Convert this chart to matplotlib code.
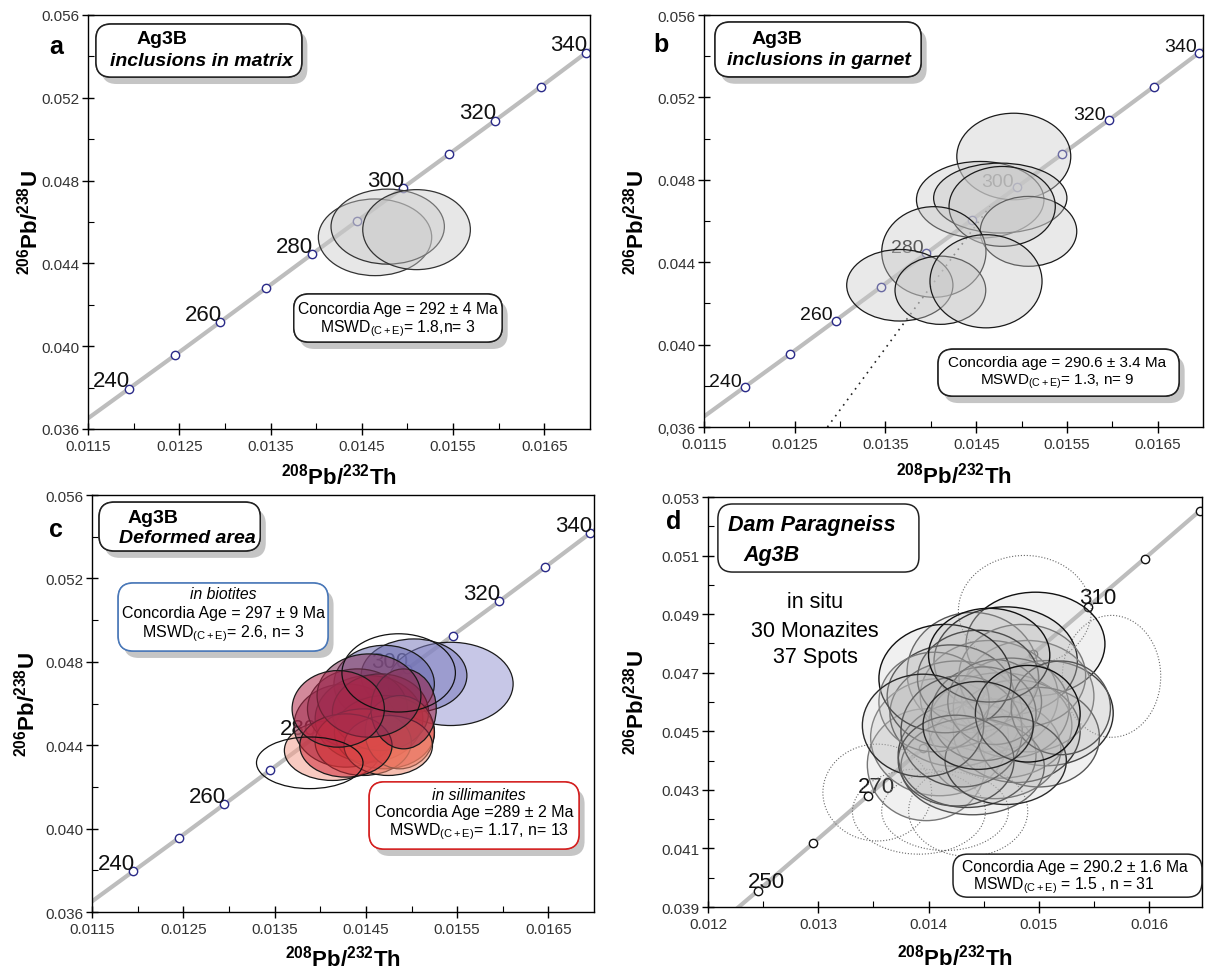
import matplotlib
matplotlib.use('Agg')
import matplotlib.pyplot as plt
from matplotlib.patches import Ellipse, FancyBboxPatch
from matplotlib import patheffects as pe
from matplotlib.colors import to_rgba

# ---------------- data ----------------
# concordia points (Ma) and their ratios
conc_age = [240, 250, 260, 270, 280, 290, 300, 310, 320, 330, 340]
conc_x = [0.01195, 0.01245, 0.01295, 0.01345, 0.01395, 0.01445, 0.01495, 0.01545, 0.01596, 0.01646, 0.01696]
conc_y = [0.03795, 0.03955, 0.04117, 0.04280, 0.04443, 0.04605, 0.04765, 0.04926, 0.05090, 0.05253, 0.05418]
# concordia curve (230 -> 350 Ma)
curve_x = [0.01144] + conc_x + [0.01747]
curve_y = [0.03632] + conc_y + [0.05580]

labels_abc = [240, 260, 280, 300, 320, 340]
labels_d = [250, 270, 310]

# a - inclusions in matrix
a_x = [0.014645, 0.014784, 0.015100]
a_y = [0.045259, 0.045775, 0.045630]
a_w = [0.001242, 0.001242, 0.001179]
a_h = [0.003704, 0.003623, 0.003865]

# b - inclusions in garnet
b_x = [0.014914, 0.014544, 0.014765, 0.015076, 0.014786, 0.014033, 0.013658, 0.014105, 0.014608]
b_y = [0.049134, 0.047034, 0.047115, 0.045499, 0.046711, 0.044498, 0.042882, 0.042640, 0.043076]
b_w = [0.001256, 0.001405, 0.001469, 0.001064, 0.001171, 0.001149, 0.001171, 0.001000, 0.001235]
b_h = [0.004200, 0.003716, 0.003393, 0.003393, 0.003877, 0.004400, 0.003473, 0.003312, 0.004523]
b_line_x = [0.01286, 0.01465]
b_line_y = [0.03600, 0.04671]

# c - deformed area, biotites (blue) and sillimanites (red)
bio_x = [0.015428, 0.015027, 0.014700]
bio_y = [0.046942, 0.047342, 0.046942]
bio_w = [0.001370, 0.001159, 0.001100]
bio_h = [0.003994, 0.003514, 0.003700]

sil_x = [0.014134, 0.014281, 0.014534, 0.014408, 0.014703, 0.014660, 0.014471,
         0.014871, 0.014745, 0.014281, 0.014913, 0.014534, 0.014197]
sil_y = [0.043748, 0.044946, 0.045265, 0.045744, 0.044626, 0.045585, 0.044147,
         0.044626, 0.043987, 0.043987, 0.045744, 0.046383, 0.045744]
sil_w = [0.001054, 0.001138, 0.001180, 0.001096, 0.001096, 0.001054, 0.001054,
         0.000759, 0.000969, 0.001011, 0.000716, 0.001138, 0.001011]
sil_h = [0.002875, 0.003994, 0.004153, 0.003834, 0.003514, 0.003674, 0.003195,
         0.003514, 0.002875, 0.003035, 0.003834, 0.003994, 0.003674]

c_open_x = [0.014859, 0.013885]
c_open_y = [0.047470, 0.043157]
c_open_w = [0.001243, 0.001167]
c_open_h = [0.003754, 0.002476]

# d - Dam paragneiss, in situ
d_x = [0.01497, 0.01440, 0.01507, 0.01398, 0.01470, 0.01455, 0.01425, 0.01410, 0.01480, 0.01460,
       0.01435, 0.01490, 0.01445, 0.01475, 0.01420, 0.01465, 0.01430, 0.01500, 0.01450, 0.01485,
       0.01415, 0.01440, 0.01470, 0.01405, 0.01455, 0.01520, 0.01395, 0.01460, 0.01490, 0.01425,
       0.01445]
d_y = [0.04798, 0.04701, 0.04562, 0.04386, 0.04740, 0.04620, 0.04560, 0.04480, 0.04500, 0.04440,
       0.04420, 0.04620, 0.04680, 0.04580, 0.04620, 0.04520, 0.04500, 0.04480, 0.04560, 0.04690,
       0.04680, 0.04380, 0.04400, 0.04600, 0.04760, 0.04580, 0.04520, 0.04600, 0.04560, 0.04400,
       0.04520]
d_w = [0.00126, 0.00119, 0.00121, 0.00107, 0.00130, 0.00125, 0.00120, 0.00125, 0.00115, 0.00120,
       0.00125, 0.00120, 0.00110, 0.00105, 0.00115, 0.00130, 0.00110, 0.00110, 0.00095, 0.00115,
       0.00120, 0.00130, 0.00110, 0.00100, 0.00110, 0.00090, 0.00110, 0.00085, 0.00095, 0.00105,
       0.00100]
d_h = [0.00354, 0.00410, 0.00359, 0.00382, 0.00370, 0.00380, 0.00360, 0.00400, 0.00350, 0.00340,
       0.00360, 0.00380, 0.00330, 0.00340, 0.00350, 0.00360, 0.00380, 0.00340, 0.00320, 0.00350,
       0.00370, 0.00330, 0.00300, 0.00340, 0.00320, 0.00320, 0.00350, 0.00290, 0.00330, 0.00310,
       0.00300]
d_dot_x = [0.014874, 0.015660, 0.013535, 0.013913, 0.014150, 0.014360]
d_dot_y = [0.049123, 0.046877, 0.042909, 0.042259, 0.042280, 0.042280]
d_dot_w = [0.001206, 0.000892, 0.000986, 0.001206, 0.001150, 0.001080]
d_dot_h = [0.003763, 0.004162, 0.003307, 0.002908, 0.002700, 0.003100]

# axis ticks
abc_xticks = [0.0115, 0.0125, 0.0135, 0.0145, 0.0155, 0.0165]
abc_xticklabels = ['0.0115', '0.0125', '0.0135', '0.0145', '0.0155', '0.0165']
abc_xminor = [0.012, 0.013, 0.014, 0.015, 0.016]
abc_yticks = [0.036, 0.040, 0.044, 0.048, 0.052, 0.056]
abc_yticklabels = ['0.036', '0.040', '0.044', '0.048', '0.052', '0.056']
b_yticklabels = ['0,036', '0.040', '0.044', '0.048', '0.052', '0.056']
abc_yminor = [0.038, 0.042, 0.046, 0.050, 0.054]
d_xticks = [0.012, 0.013, 0.014, 0.015, 0.016]
d_xticklabels = ['0.012', '0.013', '0.014', '0.015', '0.016']
d_xminor = [0.0125, 0.0135, 0.0145, 0.0155]
d_yticks = [0.039, 0.041, 0.043, 0.045, 0.047, 0.049, 0.051, 0.053]
d_yticklabels = ['0.039', '0.041', '0.043', '0.045', '0.047', '0.049', '0.051', '0.053']
d_yminor = [0.040, 0.042, 0.044, 0.046, 0.048, 0.050, 0.052]

# ---------------- styles ----------------
plt.rcParams['font.family'] = 'Liberation Sans'
plt.rcParams['mathtext.fontset'] = 'custom'
plt.rcParams['mathtext.rm'] = 'Liberation Sans'
plt.rcParams['mathtext.it'] = 'Liberation Sans:italic'
plt.rcParams['mathtext.bf'] = 'Liberation Sans:bold'

sil_colors = ['#f4a08e', '#8e3050', '#c8142e', '#7e3058', '#d01c30', '#b81432', '#e0483c',
              '#ec6a50', '#f08a70', '#d02c3a', '#9a2448', '#84345c', '#b0284a']
bio_colors = ['#9a9ad4', '#7a7abc', '#6a6aae']

XLAB = r'$^{\mathbf{208}}$Pb/$^{\mathbf{232}}$Th'
YLAB = r'$^{\mathbf{206}}$Pb/$^{\mathbf{238}}$U'
RES = 11.3  # font size of the result boxes


def setup(ax, xlim, ylim, xt, xtl, xm, yt, ytl, ym, xlab_y, ylab_x):
    ax.set_xlim(*xlim)
    ax.set_ylim(*ylim)
    ax.set_xticks(xt)
    ax.set_xticklabels(xtl)
    ax.set_xticks(xm, minor=True)
    ax.set_yticks(yt)
    ax.set_yticklabels(ytl)
    ax.set_yticks(ym, minor=True)
    ax.tick_params(which='major', direction='inout', length=8, width=1, labelsize=11,
                   labelcolor='#333333', pad=3)
    ax.tick_params(axis='y', which='major', pad=2)
    ax.tick_params(which='minor', direction='in', length=4, width=0.8)
    for s in ax.spines.values():
        s.set_linewidth(1.0)
    ax.set_xlabel(XLAB, fontsize=16, fontweight='bold')
    ax.set_ylabel(YLAB, fontsize=16, fontweight='bold')
    ax.xaxis.set_label_coords(0.5, xlab_y)
    ax.yaxis.set_label_coords(ylab_x, 0.5)


def concordia(ax, lab_ages, fs, off, ha, edge):
    ax.plot(curve_x, curve_y, color='#bdbdbd', lw=3, zorder=1, solid_capstyle='butt')
    ax.plot(conc_x, conc_y, 'o', ms=6, mfc='white', mec=edge, mew=1, zorder=2)
    for age, x, y in zip(conc_age, conc_x, conc_y):
        if age in lab_ages:
            ax.annotate(str(age), (x, y), xytext=off, textcoords='offset points',
                        ha=ha, va='bottom', fontsize=fs, color='#111111', zorder=2)


def ellipses(ax, xs, ys, ws, hs, fcs, ecs, alpha, lw=0.9, ls='-', z=3):
    for i, (x, y, w, h) in enumerate(zip(xs, ys, ws, hs)):
        fc = 'none' if fcs is None else to_rgba(fcs[i % len(fcs)], alpha)
        ax.add_patch(Ellipse((x, y), w, h, facecolor=fc, edgecolor=ecs[i % len(ecs)],
                             lw=lw, ls=ls, zorder=z))


def box(ax, x0, y0, x1, y1, edge='#222222', shadow=True):
    p = FancyBboxPatch((x0, y0), x1 - x0, y1 - y0, boxstyle='round,pad=0,rounding_size=0.03',
                       transform=ax.transAxes, fc='white', ec=edge, lw=1.1, zorder=6,
                       clip_on=False, mutation_aspect=1.2)
    if shadow:
        p.set_path_effects([pe.withSimplePatchShadow(offset=(4, -5), shadow_rgbFace='0.55', alpha=0.5),
                            pe.Normal()])
    ax.add_patch(p)


def txt(ax, x, y, s, **kw):
    kw.setdefault('ha', 'center')
    kw.setdefault('va', 'center')
    kw.setdefault('zorder', 7)
    ax.text(x, y, s, transform=ax.transAxes, **kw)


fig = plt.figure(figsize=(12.08, 9.79), dpi=100)

# ---------------- a ----------------
ax = fig.add_axes([0.0728, 0.5608, 0.4156, 0.4229])
setup(ax, (0.0115, 0.0170), (0.036, 0.056), abc_xticks, abc_xticklabels, abc_xminor,
      abc_yticks, abc_yticklabels, abc_yminor, -0.082, -0.09)
concordia(ax, labels_abc, 16, (1, -2), 'right', '#2a2a88')
ellipses(ax, a_x, a_y, a_w, a_h, ['#c8c8c8'], ['#333333'], 0.42)
txt(ax, -0.064, 0.925, 'a', fontsize=18, fontweight='bold')
box(ax, 0.016, 0.850, 0.426, 0.978)
txt(ax, 0.097, 0.942, 'Ag3B', fontsize=14, fontweight='bold', ha='left')
txt(ax, 0.044, 0.889, 'inclusions in matrix', fontsize=14, fontweight='bold', style='italic', ha='left')
box(ax, 0.41, 0.21, 0.825, 0.326)
txt(ax, 0.617, 0.292, 'Concordia Age = 292 \u00b1 4 Ma', fontsize=RES)
txt(ax, 0.617, 0.244, r'MSWD$_{\mathrm{(C+E)}}$= 1.8,n= 3', fontsize=RES)

# ---------------- b ----------------
ax = fig.add_axes([0.5828, 0.5628, 0.4131, 0.4208])
setup(ax, (0.0115, 0.0170), (0.036, 0.056), abc_xticks, abc_xticklabels, abc_xminor,
      abc_yticks, b_yticklabels, abc_yminor, -0.085, -0.112)
concordia(ax, labels_abc, 14, (-2, -2), 'right', '#2a2a88')
ax.plot(b_line_x, b_line_y, color='#222222', lw=1.2, ls=(0, (1, 3)), zorder=2)
ellipses(ax, b_x, b_y, b_w, b_h, ['#c8c8c8'], ['#1a1a1a'], 0.40)
txt(ax, -0.086, 0.93, 'b', fontsize=18, fontweight='bold')
box(ax, 0.022, 0.850, 0.435, 0.983)
txt(ax, 0.096, 0.942, 'Ag3B', fontsize=14, fontweight='bold', ha='left')
txt(ax, 0.046, 0.893, 'inclusions in garnet', fontsize=14, fontweight='bold', style='italic', ha='left')
box(ax, 0.469, 0.075, 0.952, 0.189)
txt(ax, 0.708, 0.158, 'Concordia age = 290.6 \u00b1 3.4 Ma', fontsize=RES - 0.3)
txt(ax, 0.708, 0.113, r'MSWD$_{\mathrm{(C+E)}}$= 1.3, n= 9', fontsize=RES - 0.3)

# ---------------- c ----------------
ax = fig.add_axes([0.0762, 0.0674, 0.4156, 0.4259])
setup(ax, (0.0115, 0.0170), (0.036, 0.056), abc_xticks, abc_xticklabels, abc_xminor,
      abc_yticks, abc_yticklabels, abc_yminor, -0.078, -0.104)
concordia(ax, labels_abc, 16, (1, -2), 'right', '#2a2a88')
ellipses(ax, bio_x, bio_y, bio_w, bio_h, bio_colors, ['#1a1a1a'], 0.55)
ellipses(ax, sil_x, sil_y, sil_w, sil_h, sil_colors, ['#1a1a1a'], 0.55, z=4)
ellipses(ax, c_open_x, c_open_y, c_open_w, c_open_h, None, ['#111111'], 1, z=5)
txt(ax, -0.072, 0.918, 'c', fontsize=18, fontweight='bold')
box(ax, 0.014, 0.866, 0.335, 0.983)
txt(ax, 0.07, 0.947, 'Ag3B', fontsize=14, fontweight='bold', ha='left')
txt(ax, 0.054, 0.899, 'Deformed area', fontsize=14, fontweight='bold', style='italic', ha='left')
box(ax, 0.052, 0.626, 0.47, 0.789, edge='#4a78b8')
txt(ax, 0.261, 0.763, 'in biotites', fontsize=RES, style='italic')
txt(ax, 0.261, 0.719, 'Concordia Age = 297 \u00b1 9 Ma', fontsize=RES + 0.2)
txt(ax, 0.261, 0.671, r'MSWD$_{\mathrm{(C+E)}}$= 2.6, n= 3', fontsize=RES + 0.2)
box(ax, 0.552, 0.151, 0.97, 0.312, edge='#d42020')
txt(ax, 0.77, 0.283, 'in sillimanites', fontsize=RES, style='italic')
txt(ax, 0.761, 0.240, 'Concordia Age =289 \u00b1 2 Ma', fontsize=RES + 0.2)
txt(ax, 0.77, 0.194, r'MSWD$_{\mathrm{(C+E)}}$= 1.17, n= 13', fontsize=RES + 0.2)

# ---------------- d ----------------
ax = fig.add_axes([0.5861, 0.0725, 0.4089, 0.4188])
setup(ax, (0.012, 0.01648), (0.039, 0.053), d_xticks, d_xticklabels, d_xminor,
      d_yticks, d_yticklabels, d_yminor, -0.088, -0.121)
concordia(ax, labels_d, 16, (-7, -1), 'left', '#111111')
ellipses(ax, d_dot_x, d_dot_y, d_dot_w, d_dot_h, None, ['#666666'], 1, lw=0.8, ls=':', z=3)
ellipses(ax, d_x, d_y, d_w, d_h, ['#b8b8b8'], ['#111111', '#555555', '#2a2a2a', '#777777'], 0.2, lw=1.0, z=4)
txt(ax, -0.069, 0.941, 'd', fontsize=18, fontweight='bold')
box(ax, 0.02, 0.817, 0.427, 0.983, shadow=False)
txt(ax, 0.04, 0.932, 'Dam Paragneiss', fontsize=15.5, fontweight='bold', style='italic', ha='left')
txt(ax, 0.071, 0.861, 'Ag3B', fontsize=15.5, fontweight='bold', style='italic', ha='left')
txt(ax, 0.217, 0.744, 'in situ', fontsize=15.5)
txt(ax, 0.217, 0.675, '30 Monazites', fontsize=15.5)
txt(ax, 0.217, 0.610, '37 Spots', fontsize=15.5)
box(ax, 0.496, 0.024, 1.0, 0.129, shadow=False)
txt(ax, 0.742, 0.098, 'Concordia Age = 290.2 \u00b1 1.6 Ma', fontsize=RES)
txt(ax, 0.72, 0.054, r'MSWD$_{\mathrm{(C+E)}}$ = 1.5 , n = 31', fontsize=RES)

fig.savefig('out.png', dpi=100)
